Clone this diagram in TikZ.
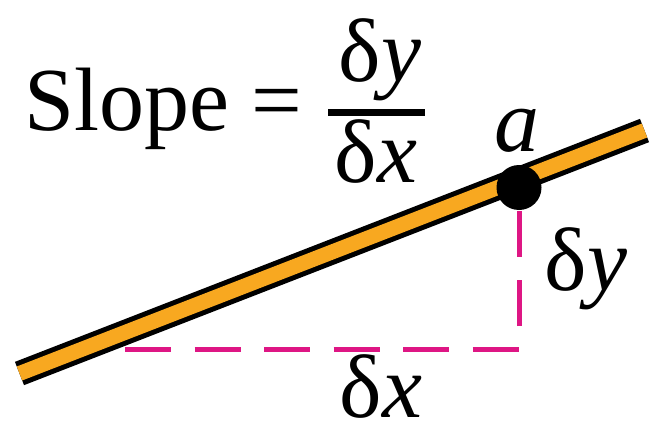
\documentclass[tikz,border=0pt]{standalone}
\usepackage{fontspec}
\setmainfont{Liberation Serif}
\definecolor{slopeorange}{RGB}{248,168,32}
\definecolor{deltamagenta}{RGB}{222,22,132}

\begin{document}
\begin{tikzpicture}[x=1pt, y=-1pt,
    lbl/.style={inner sep=0pt, anchor=base, font=\fontsize{90}{100}\selectfont},
    band/.style={line width=25pt, black},
    bandfill/.style={line width=15pt, slopeorange},
    dashline/.style={deltamagenta, line width=5pt, dash pattern=on 46pt off 23.5pt},
    dot/.style={circle, fill=black, minimum size=45pt, inner sep=0pt}]
\useasboundingbox (0,0) rectangle (660,433);
% formula, top left
\node[lbl, anchor=base west] (slope) at (24,130) {Slope =};
\node[lbl] (num) at (380,82) {δ\textit{y}};
\node[lbl] (den) at (376,182) {δ\textit{x}};
\draw[line width=7pt] (328,112) -- (425,112);
% ends of the line and the point a
\coordinate (lo) at (19.5,373.5);
\coordinate (hi) at (644.5,130.5);
\coordinate (apt) at (519,187.5);
\coordinate (run) at (125,349);
\coordinate (corner) at (519,349);
% dashed run and rise, under the line
\draw[dashline] (run) -- (corner) -- (apt);
% the line itself
\draw[band] (lo) -- (hi);
\draw[bandfill] (lo) -- (hi);
\node[dot] (a) at (apt) {};
\node[lbl] (alabel) at (517,151) {\textit{a}};
% rise and run labels
\node[lbl] (dy) at (586,290) {δ\textit{y}};
\node[lbl] (dx) at (381,417) {δ\textit{x}};
\end{tikzpicture}
\end{document}
